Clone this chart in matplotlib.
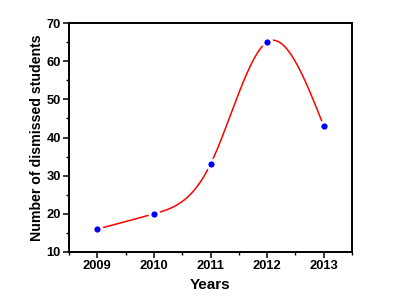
import matplotlib
matplotlib.use("Agg")
import matplotlib.pyplot as plt
import numpy as np
from matplotlib.ticker import MultipleLocator

years = [2009, 2010, 2011, 2012, 2013]
students = [16, 20, 33, 65, 43]


def natural_spline(x, y, n=200):
    # natural cubic spline through the data points
    x = np.asarray(x, float)
    y = np.asarray(y, float)
    k = len(x)
    h = np.diff(x)
    A = np.zeros((k, k))
    r = np.zeros(k)
    A[0, 0] = A[-1, -1] = 1
    for i in range(1, k - 1):
        A[i, i - 1] = h[i - 1]
        A[i, i] = 2 * (h[i - 1] + h[i])
        A[i, i + 1] = h[i]
        r[i] = 3 * ((y[i + 1] - y[i]) / h[i] - (y[i] - y[i - 1]) / h[i - 1])
    c = np.linalg.solve(A, r)
    b = (y[1:] - y[:-1]) / h - h * (2 * c[:-1] + c[1:]) / 3
    d = (c[1:] - c[:-1]) / (3 * h)
    xs = np.linspace(x[0], x[-1], n)
    idx = np.clip(np.searchsorted(x, xs) - 1, 0, k - 2)
    t = xs - x[idx]
    ys = y[idx] + b[idx] * t + c[idx] * t ** 2 + d[idx] * t ** 3
    return xs, ys


plt.rcParams['font.family'] = ['Liberation Sans', 'DejaVu Sans']
plt.rcParams['font.weight'] = 'bold'

fig = plt.figure(figsize=(3.93, 3.08), dpi=100)
ax = fig.add_axes([69 / 393, 1 - 252 / 308, (352 - 69) / 393, (252 - 23) / 308])

xs, ys = natural_spline(years, students)
ax.plot(xs, ys, color='red', lw=1.1, zorder=2)
ax.plot(years, students, 'o', color='blue', ms=6.5, mec='white', mew=2, zorder=3)

ax.set_xlim(2008.5, 2013.5)
ax.set_ylim(10, 70)
ax.set_xticks(years)
ax.xaxis.set_minor_locator(MultipleLocator(0.5))
ax.yaxis.set_major_locator(MultipleLocator(10))
ax.yaxis.set_minor_locator(MultipleLocator(5))
ax.tick_params(which='major', length=4, width=1.1, labelsize=9.3, pad=2)
ax.tick_params(which='minor', length=2, width=1.0)
for lab in ax.get_xticklabels() + ax.get_yticklabels():
    lab.set_fontweight('bold')
for s in ax.spines.values():
    s.set_linewidth(1.4)

ax.set_xlabel('Years', fontsize=11, fontweight='bold', labelpad=4)
ax.set_ylabel('Number of dismissed students', fontsize=10.2, fontweight='bold', labelpad=2)

fig.savefig('out.png', dpi=100)
